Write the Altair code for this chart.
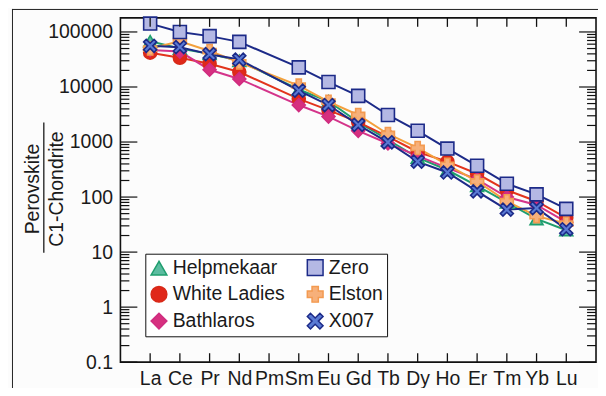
import json
import altair as alt
import pandas as pd

# ---------------- data ----------------
elements = ["La", "Ce", "Pr", "Nd", "Pm", "Sm", "Eu", "Gd", "Tb", "Dy", "Ho", "Er", "Tm", "Yb", "Lu"]
plotted = ["La", "Ce", "Pr", "Nd", "Sm", "Eu", "Gd", "Tb", "Dy", "Ho", "Er", "Tm", "Yb", "Lu"]

helpmekaar = [68000, 50000, 40000, 30000, 9000, 5500, 2300, 1100, 520, 310, 160, 80, 40, 25]
white_ladies = [42000, 34000, 26500, 18700, 6100, 3800, 2300, 1250, 660, 440, 265, 133, 84, 42]
bathlaros = [47000, 44000, 20600, 14000, 4700, 2900, 1600, 940, 560, 340, 210, 100, 72, 35]
elston = [50000, 68000, 45000, 28000, 10600, 5400, 3100, 1400, 780, 386, 192, 84, 45, 33]
zero = [142000, 100000, 84000, 66000, 22700, 12300, 6900, 3100, 1600, 760, 370, 175, 112, 61]
x007 = [56000, 53000, 39500, 31500, 8600, 4700, 2050, 990, 440, 280, 127, 59, 63, 26]

series_names = ["Helpmekaar", "White Ladies", "Bathlaros", "Zero", "Elston", "X007"]
series_values = [helpmekaar, white_ladies, bathlaros, zero, elston, x007]
draw_order = ["Helpmekaar", "White Ladies", "Bathlaros", "Elston", "Zero", "X007"]

line_colors = {"Helpmekaar": "#1f9e6e", "White Ladies": "#e2341c", "Bathlaros": "#d4348a",
               "Elston": "#f3a03c", "Zero": "#1c2a88", "X007": "#1c2a88"}
fill_colors = {"Helpmekaar": "#5cbca0", "White Ladies": "#e0281a", "Bathlaros": "#d6307f",
               "Elston": "#f7b07a", "Zero": "#b4b8e4", "X007": "#5a7ad4"}
edge_colors = {"Helpmekaar": "#1f9e6e", "White Ladies": "#d82a18", "Bathlaros": "#d02c80",
               "Elston": "#f39a50", "Zero": "#1c2a88", "X007": "#1c2a88"}
x_path = ("M-1,-0.6L-0.6,-1L0,-0.4L0.6,-1L1,-0.6L0.4,0L1,0.6L0.6,1L0,0.4"
          "L-0.6,1L-1,0.6L-0.4,0Z")
shapes = {"Helpmekaar": "triangle-up", "White Ladies": "circle", "Bathlaros": "diamond",
          "Elston": "cross", "Zero": "square", "X007": x_path}

y_labels = [0.1, 1, 10, 100, 1000, 10000, 100000]
y_minor = [k * 10 ** e for e in range(-1, 5) for k in range(2, 10)]
x_ticks = list(range(1, len(elements) + 1))

rows = []
for name, vals in zip(series_names, series_values):
    for el, v in zip(plotted, vals):
        rows.append({"series": name, "el": el, "idx": elements.index(el) + 1,
                     "v": v, "ord": draw_order.index(name)})
df = pd.DataFrame(rows)

# ---------------- layout ----------------
W, H = 478, 346
FONT = "Liberation Sans"
FS = 19.5
INK = "#1a1a1a"

xs = alt.Scale(domain=[0, len(elements) + 1], nice=False, zero=False)
ys = alt.Scale(type="log", domain=[0.1, 180000], nice=False)

x_axis = alt.Axis(values=x_ticks, labelExpr=json.dumps(elements) + "[datum.value - 1]",
                  ticks=False, domain=False, grid=False, title=None,
                  labelFont=FONT, labelFontSize=FS, labelColor=INK, labelPadding=7,
                  labelFlush=False, labelOverlap=False)
y_axis = alt.Axis(values=y_labels, format="~g", ticks=False, domain=False, grid=False,
                  title=None, labelFont=FONT, labelFontSize=FS, labelColor=INK,
                  labelPadding=8, labelFlush=False, labelOverlap=False)

X = lambda: alt.X("idx:Q", scale=xs, axis=x_axis)
Y = lambda: alt.Y("v:Q", scale=ys, axis=y_axis)

def scale_for(d, order):
    return alt.Scale(domain=order, range=[d[s] for s in order])

def leg():
    return alt.Legend(title=None, orient="none", legendX=25, legendY=237, columns=2,
                      strokeColor="#111", fillColor="white", padding=4,
                      symbolSize=250, symbolStrokeWidth=1.5, labelFont=FONT,
                      labelFontSize=FS, labelColor=INK, rowPadding=4, columnPadding=18,
                      labelOffset=4)

# the line colour scale uses another domain order so that its hidden legend
# is not merged with the marker legend (legend fills column by column)
lines = alt.Chart(df).mark_line(strokeWidth=2).encode(
    x=X(), y=Y(),
    color=alt.Color("series:N", scale=scale_for(line_colors, draw_order), legend=None),
)

points = alt.Chart(df).mark_point(filled=True, size=170, strokeWidth=1.6, opacity=1).encode(
    x=X(), y=Y(),
    shape=alt.Shape("series:N", scale=scale_for(shapes, series_names), legend=leg()),
    fill=alt.Fill("series:N", scale=scale_for(fill_colors, series_names), legend=leg()),
    stroke=alt.Stroke("series:N", scale=scale_for(edge_colors, series_names), legend=leg()),
    order=alt.Order("ord:Q"),
)

ymaj = pd.DataFrame({"v": y_labels})
ymin = pd.DataFrame({"v": y_minor})
xt = pd.DataFrame({"idx": x_ticks})

def yticks(data, length):
    left = alt.Chart(data).mark_rule(color="#111", strokeWidth=1.2).encode(
        y=Y(), x=alt.value(0), x2=alt.value(length))
    right = alt.Chart(data).mark_rule(color="#111", strokeWidth=1.2).encode(
        y=Y(), x=alt.value(W), x2=alt.value(W - length))
    return [left, right]

xt_bottom = alt.Chart(xt).mark_rule(color="#111", strokeWidth=1.3).encode(
    x=X(), y=alt.value(H), y2=alt.value(H - 9))
xt_top = alt.Chart(xt).mark_rule(color="#111", strokeWidth=1.3).encode(
    x=X(), y=alt.value(0), y2=alt.value(9))

one = pd.DataFrame({"a": [0]})
border_left = alt.Chart(one).mark_rule(color="#222", strokeWidth=1).encode(
    x=alt.value(-108.5), y=alt.value(-9), y2=alt.value(H + 40))
border_top = alt.Chart(one).mark_rule(color="#222", strokeWidth=1).encode(
    x=alt.value(-109), x2=alt.value(W + 10), y=alt.value(-8.5))

title_top = alt.Chart(one).mark_text(font=FONT, fontSize=FS, color=INK, angle=270,
                                     align="center", baseline="middle").encode(
    x=alt.value(-88), y=alt.value(172), text=alt.value("Perovskite"))
title_bot = alt.Chart(one).mark_text(font=FONT, fontSize=FS, color=INK, angle=270,
                                     align="center", baseline="middle").encode(
    x=alt.value(-64), y=alt.value(172), text=alt.value("C1-Chondrite"))
frac_bar = alt.Chart(one).mark_rule(color=INK, strokeWidth=1.3).encode(
    x=alt.value(-77), y=alt.value(105), y2=alt.value(236))

chart = alt.layer(
    lines, points,
    *yticks(ymaj, 17), *yticks(ymin, 9), xt_bottom, xt_top,
    border_left, border_top, title_top, title_bot, frac_bar,
).properties(
    width=W, height=H,
    autosize=alt.AutoSizeParams(type="none"),
    padding={"left": 113, "top": 9, "right": 2, "bottom": 25},
    background="#fcfcfc",
).configure_view(stroke="#111", strokeWidth=1.6)

chart.save("out.html", embed_options={"renderer": "svg", "actions": False})
